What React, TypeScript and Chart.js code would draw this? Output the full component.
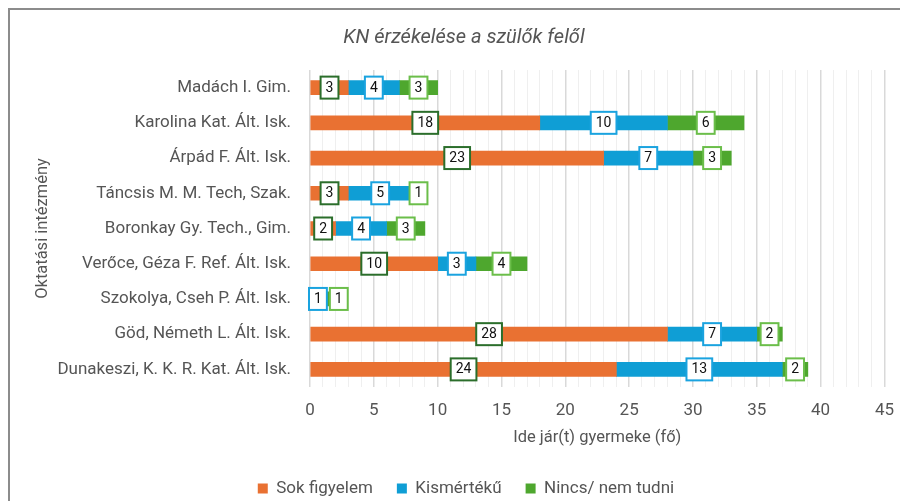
import React, { useEffect, useRef } from "react";
import { Chart, registerables } from "chart.js";

Chart.register(...registerables);

const categories = [
  "Madách I. Gim.",
  "Karolina Kat. Ált. Isk.",
  "Árpád F. Ált. Isk.",
  "Táncsis M. M. Tech, Szak.",
  "Boronkay Gy. Tech., Gim.",
  "Verőce, Géza F. Ref. Ált. Isk.",
  "Szokolya, Cseh P. Ált. Isk.",
  "Göd, Németh L. Ált. Isk.",
  "Dunakeszi, K. K. R. Kat. Ált. Isk.",
];
const sokFigyelem = [3, 18, 23, 3, 2, 10, 0, 28, 24];
const kismerteku = [4, 10, 7, 5, 4, 3, 1, 7, 13];
const nincs = [3, 6, 3, 1, 3, 4, 1, 2, 2];
const seriesNames = ["Sok figyelem", "Kismértékű", "Nincs/ nem tudni"];
const xMin = 0;
const xMax = 45;

const FONT = "Roboto, 'Open Sans', sans-serif";
const TEXT = "#555555";
const barColors = ["#E97132", "#0F9ED5", "#4EA72E"];
const labelBorders = ["#2B6E2B", "#1AA3DF", "#6BBE4A"];

const dataLabelPlugin = {
  id: "boxLabels",
  afterLayout(chart: any) {
    // centre title and legend over the full canvas width (as in the original)
    if (chart.titleBlock) chart.titleBlock.right += 28;
    if (chart.legend) {
      chart.legend.right += 32;
      chart.legend.top += 5;
      chart.legend.bottom += 5;
    }
  },
  afterDatasetsDraw(chart: any) {
    const ctx = chart.ctx;
    ctx.save();
    ctx.font = `14px ${FONT}`;
    ctx.textAlign = "center";
    ctx.textBaseline = "middle";
    const lastRight: Record<number, number> = {};
    chart.data.datasets.forEach((ds: any, di: number) => {
      const meta = chart.getDatasetMeta(di);
      meta.data.forEach((el: any, i: number) => {
        const v = ds.data[i];
        if (!v) return;
        let cx = (el.x + el.base) / 2;
        const cy = el.y;
        const tw = ctx.measureText(String(v)).width;
        const w = tw + 10;
        const h = 22;
        if (lastRight[i] !== undefined && cx - w / 2 < lastRight[i] + 3) {
          cx = lastRight[i] + 3 + w / 2;
        }
        if (cx - w / 2 < chart.chartArea.left - 1) cx = chart.chartArea.left - 1 + w / 2;
        lastRight[i] = cx + w / 2;
        ctx.fillStyle = "#ffffff";
        ctx.fillRect(cx - w / 2, cy - h / 2, w, h);
        ctx.lineWidth = 2;
        ctx.strokeStyle = labelBorders[di];
        ctx.strokeRect(cx - w / 2, cy - h / 2, w, h);
        ctx.fillStyle = "#111111";
        ctx.fillText(String(v), cx, cy + 0.5);
      });
    });
    ctx.restore();
  },
};

export default function App() {
  const ref = useRef<HTMLCanvasElement | null>(null);
  useEffect(() => {
    document.documentElement.style.overflow = "hidden";
    const canvas = ref.current!;
    const chart = new Chart(canvas, {
      type: "bar",
      data: {
        labels: categories,
        datasets: [sokFigyelem, kismerteku, nincs].map((d, i) => ({
          label: seriesNames[i],
          data: d,
          backgroundColor: barColors[i],
          borderWidth: 0,
          barThickness: 14,
        })),
      },
      plugins: [dataLabelPlugin],
      options: {
        indexAxis: "y",
        responsive: false,
        animation: false,
        layout: { padding: { left: 0, right: 18, top: 0, bottom: 0 } },
        plugins: {
          title: {
            display: true,
            text: "KN érzékelése a szülők felől",
            color: TEXT,
            font: { family: FONT, size: 20, style: "italic", weight: "normal" },
            padding: { top: 16, bottom: 20 },
          },
          legend: {
            position: "bottom",
            maxHeight: 50,
            labels: {
              color: TEXT,
              font: { family: FONT, size: 17 },
              boxWidth: 10,
              boxHeight: 10,
              padding: 24,
            },
          },
          tooltip: { enabled: false },
        },
        scales: {
          x: {
            stacked: true,
            min: xMin,
            max: xMax,
            afterFit: (s: any) => {
              s.height = 64;
            },
            ticks: {
              stepSize: 1,
              autoSkip: false,
              maxRotation: 0,
              color: TEXT,
              font: { family: FONT, size: 17 },
              padding: 14,
              callback: (v: any) => (Number(v) % 5 === 0 ? String(v) : ""),
            },
            grid: {
              drawTicks: false,
              color: (c: any) => (c.tick && c.tick.value % 5 === 0 ? "#d9d9d9" : "#efefef"),
              lineWidth: (c: any) => (c.tick && c.tick.value % 5 === 0 ? 1.5 : 1),
            },
            border: { display: false },
            title: {
              display: true,
              text: "Ide jár(t) gyermeke (fő)",
              color: TEXT,
              font: { family: FONT, size: 16.5 },
              padding: { top: 0, bottom: 3 },
            },
          },
          y: {
            stacked: true,
            afterFit: (s: any) => {
              s.width = 300;
            },
            ticks: {
              color: TEXT,
              font: { family: FONT, size: 17 },
              padding: 19,
            },
            grid: { display: false, drawTicks: false },
            border: { display: false },
            title: {
              display: true,
              text: "Oktatási intézmény",
              color: TEXT,
              font: { family: FONT, size: 16.5 },
              padding: { top: 23, bottom: 0 },
            },
          },
        },
      },
    } as any);
    return () => chart.destroy();
  }, []);
  return (
    <div
      style={{
        width: 900,
        height: 493,
        boxSizing: "border-box",
        borderTop: "2px solid #8c8c8c",
        borderLeft: "2px solid #8c8c8c",
        background: "#fff",
        overflow: "hidden",
      }}
    >
      <canvas ref={ref} width={898} height={491} style={{ display: "block", width: 898, height: 491 }} />
    </div>
  );
}
